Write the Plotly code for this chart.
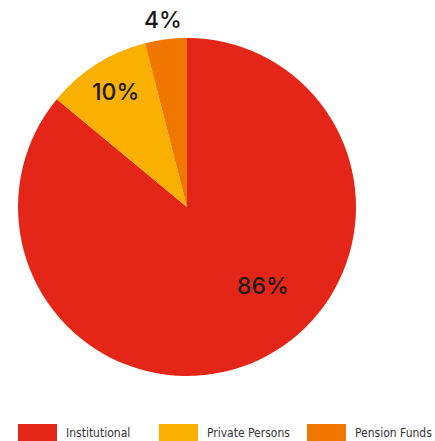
import plotly.graph_objects as go

# Shareholder structure
categories = ["Institutional", "Private Persons", "Pension Funds"]
shares = [86, 10, 4]
colors = ["#E42618", "#F9B000", "#F07800"]

W, H = 435, 441

fig = go.Figure(
    go.Pie(
        labels=categories,
        values=shares,
        marker=dict(colors=colors, line=dict(width=0)),
        sort=False,
        direction="clockwise",
        rotation=0,
        textinfo="none",
        hoverinfo="label+percent",
        showlegend=False,
        domain=dict(x=[18 / W, 356 / W], y=[(H - 376) / H, (H - 38) / H]),
    )
)

# Percentage labels
label_pos = [(263, 286), (115, 92), (163, 20)]
pct_font = dict(family="Inter, Open Sans, sans-serif", size=23, color="#1a1a1a", weight=500)
total = sum(shares)
for v, (px, py) in zip(shares, label_pos):
    fig.add_annotation(
        x=px / W, y=1 - py / H, xref="paper", yref="paper",
        text=f"{round(100 * v / total)}%", showarrow=False,
        font=pct_font, xanchor="center", yanchor="middle",
    )

# Legend row at the bottom
swatch_x = [18, 159, 307]
sw_w, sw_top, sw_bot = 39, 424, 441
leg_font = dict(family="DejaVu Sans Condensed, Liberation Sans, sans-serif",
                size=12, color="#333333")
for name, col, sx in zip(categories, colors, swatch_x):
    fig.add_shape(
        type="rect", xref="paper", yref="paper",
        x0=sx / W, x1=(sx + sw_w) / W, y0=1 - sw_bot / H, y1=1 - sw_top / H,
        fillcolor=col, line=dict(width=0),
    )
    fig.add_annotation(
        x=(sx + sw_w + 7) / W, y=1 - 433 / H, xref="paper", yref="paper",
        text=name, showarrow=False, font=leg_font,
        xanchor="left", yanchor="middle",
    )

fig.update_layout(
    width=W, height=H,
    margin=dict(l=0, r=0, t=0, b=0),
    paper_bgcolor="white", plot_bgcolor="white",
)

fig.write_html("out.html")
